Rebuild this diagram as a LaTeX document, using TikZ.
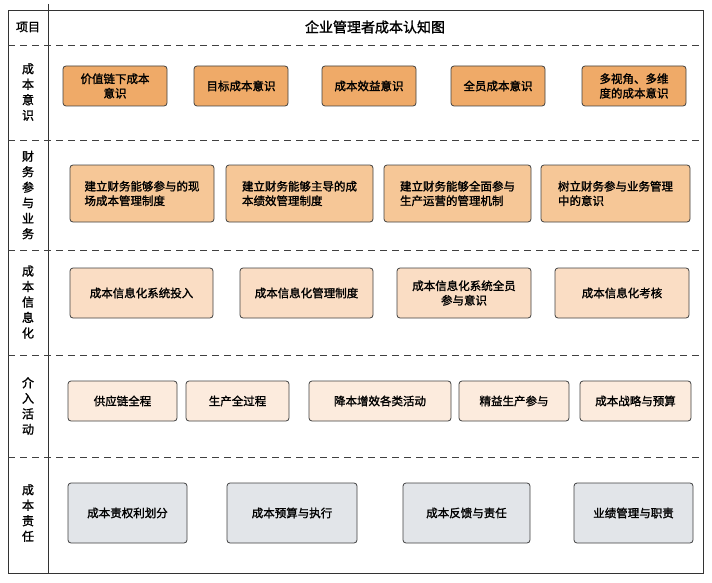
\documentclass[tikz,border=0pt]{standalone}
\usepackage{fontspec}
\setmainfont{Noto Sans CJK SC}[FakeBold=1.5]
\usetikzlibrary{positioning}
\definecolor{rowa}{HTML}{EFAA68}
\definecolor{rowb}{HTML}{F6C797}
\definecolor{rowc}{HTML}{FADDC4}
\definecolor{rowd}{HTML}{FCEBDD}
\definecolor{rowe}{HTML}{E2E5E9}
\begin{document}
\begin{tikzpicture}[
    x=1pt, y=-1pt,
    box/.style={rectangle, rounded corners=3pt, draw=black!75, thick, font=\fontsize{11.5}{14.5}\selectfont, align=center, inner sep=2pt},
    sep/.style={draw=black!75, thick, dashed, dash pattern=on 7pt off 5pt},
    rowlabel/.style={font=\fontsize{12}{15.5}\selectfont, align=center}
]
    \useasboundingbox (0,0) rectangle (712,583);

    % Frame
    \draw[thick, black!80] (8,10) rectangle (703,573);
    \draw[thick, black!80] (48,4) -- (48,573);
    \foreach \y in {45,140,250,355,457}
        \draw[sep] (8,\y) -- (703,\y);

    % Header
    \node[rowlabel] (head) at (28,27) {项目};
    \node[font=\fontsize{14}{17}\selectfont] (title) at (375,27) {企业管理者成本认知图};

    % Row labels
    \node[rowlabel] (lab1) at (28,92) {成\\本\\意\\识};
    \node[rowlabel] (lab2) at (28,195) {财\\务\\参\\与\\业\\务};
    \node[rowlabel] (lab3) at (28,302) {成\\本\\信\\息\\化};
    \node[rowlabel] (lab4) at (28,406) {介\\入\\活\\动};
    \node[rowlabel] (lab5) at (28,513) {成\\本\\责\\任};

    % Row 1
    \foreach \n/\xa/\xb/\txt in {a1/63/167/{价值链下成本\\意识}, a2/194/288/{目标成本意识}, a3/322/416/{成本效益意识}, a4/451/545/{全员成本意识}, a5/582/686/{多视角、多维\\度的成本意识}}
        \node[box, fill=rowa, minimum width=\xb-\xa, minimum height=40] (\n) at ({(\xa+\xb)/2},86) {\txt};

    % Row 2
    \foreach \n/\xa/\xb/\txt in {b1/70/214/{建立财务能够参与的现\\场成本管理制度}, b2/226/373/{建立财务能够主导的成\\本绩效管理制度}, b3/384/531/{建立财务能够全面参与\\生产运营的管理机制}, b4/541/690/{树立财务参与业务管理\\中的意识}}
        \node[box, fill=rowb, align=left, minimum width=\xb-\xa, minimum height=57] (\n) at ({(\xa+\xb)/2},193.5) {\txt};

    % Row 3
    \foreach \n/\xa/\xb/\txt in {c1/70/213/{成本信息化系统投入}, c2/240/373/{成本信息化管理制度}, c3/397/531/{成本信息化系统全员\\参与意识}, c4/555/689/{成本信息化考核}}
        \node[box, fill=rowc, minimum width=\xb-\xa, minimum height=50] (\n) at ({(\xa+\xb)/2},293) {\txt};

    % Row 4
    \foreach \n/\xa/\xb/\txt in {d1/68/177/{供应链全程}, d2/186/289/{生产全过程}, d3/309/451/{降本增效各类活动}, d4/459/569/{精益生产参与}, d5/580/691/{成本战略与预算}}
        \node[box, fill=rowd, minimum width=\xb-\xa, minimum height=40] (\n) at ({(\xa+\xb)/2},401) {\txt};

    % Row 5
    \foreach \n/\xa/\xb/\txt in {e1/68/187/{成本责权利划分}, e2/227/357/{成本预算与执行}, e3/403/530/{成本反馈与责任}, e4/574/693/{业绩管理与职责}}
        \node[box, fill=rowe, minimum width=\xb-\xa, minimum height=60] (\n) at ({(\xa+\xb)/2},513) {\txt};

\end{tikzpicture}
\end{document}
